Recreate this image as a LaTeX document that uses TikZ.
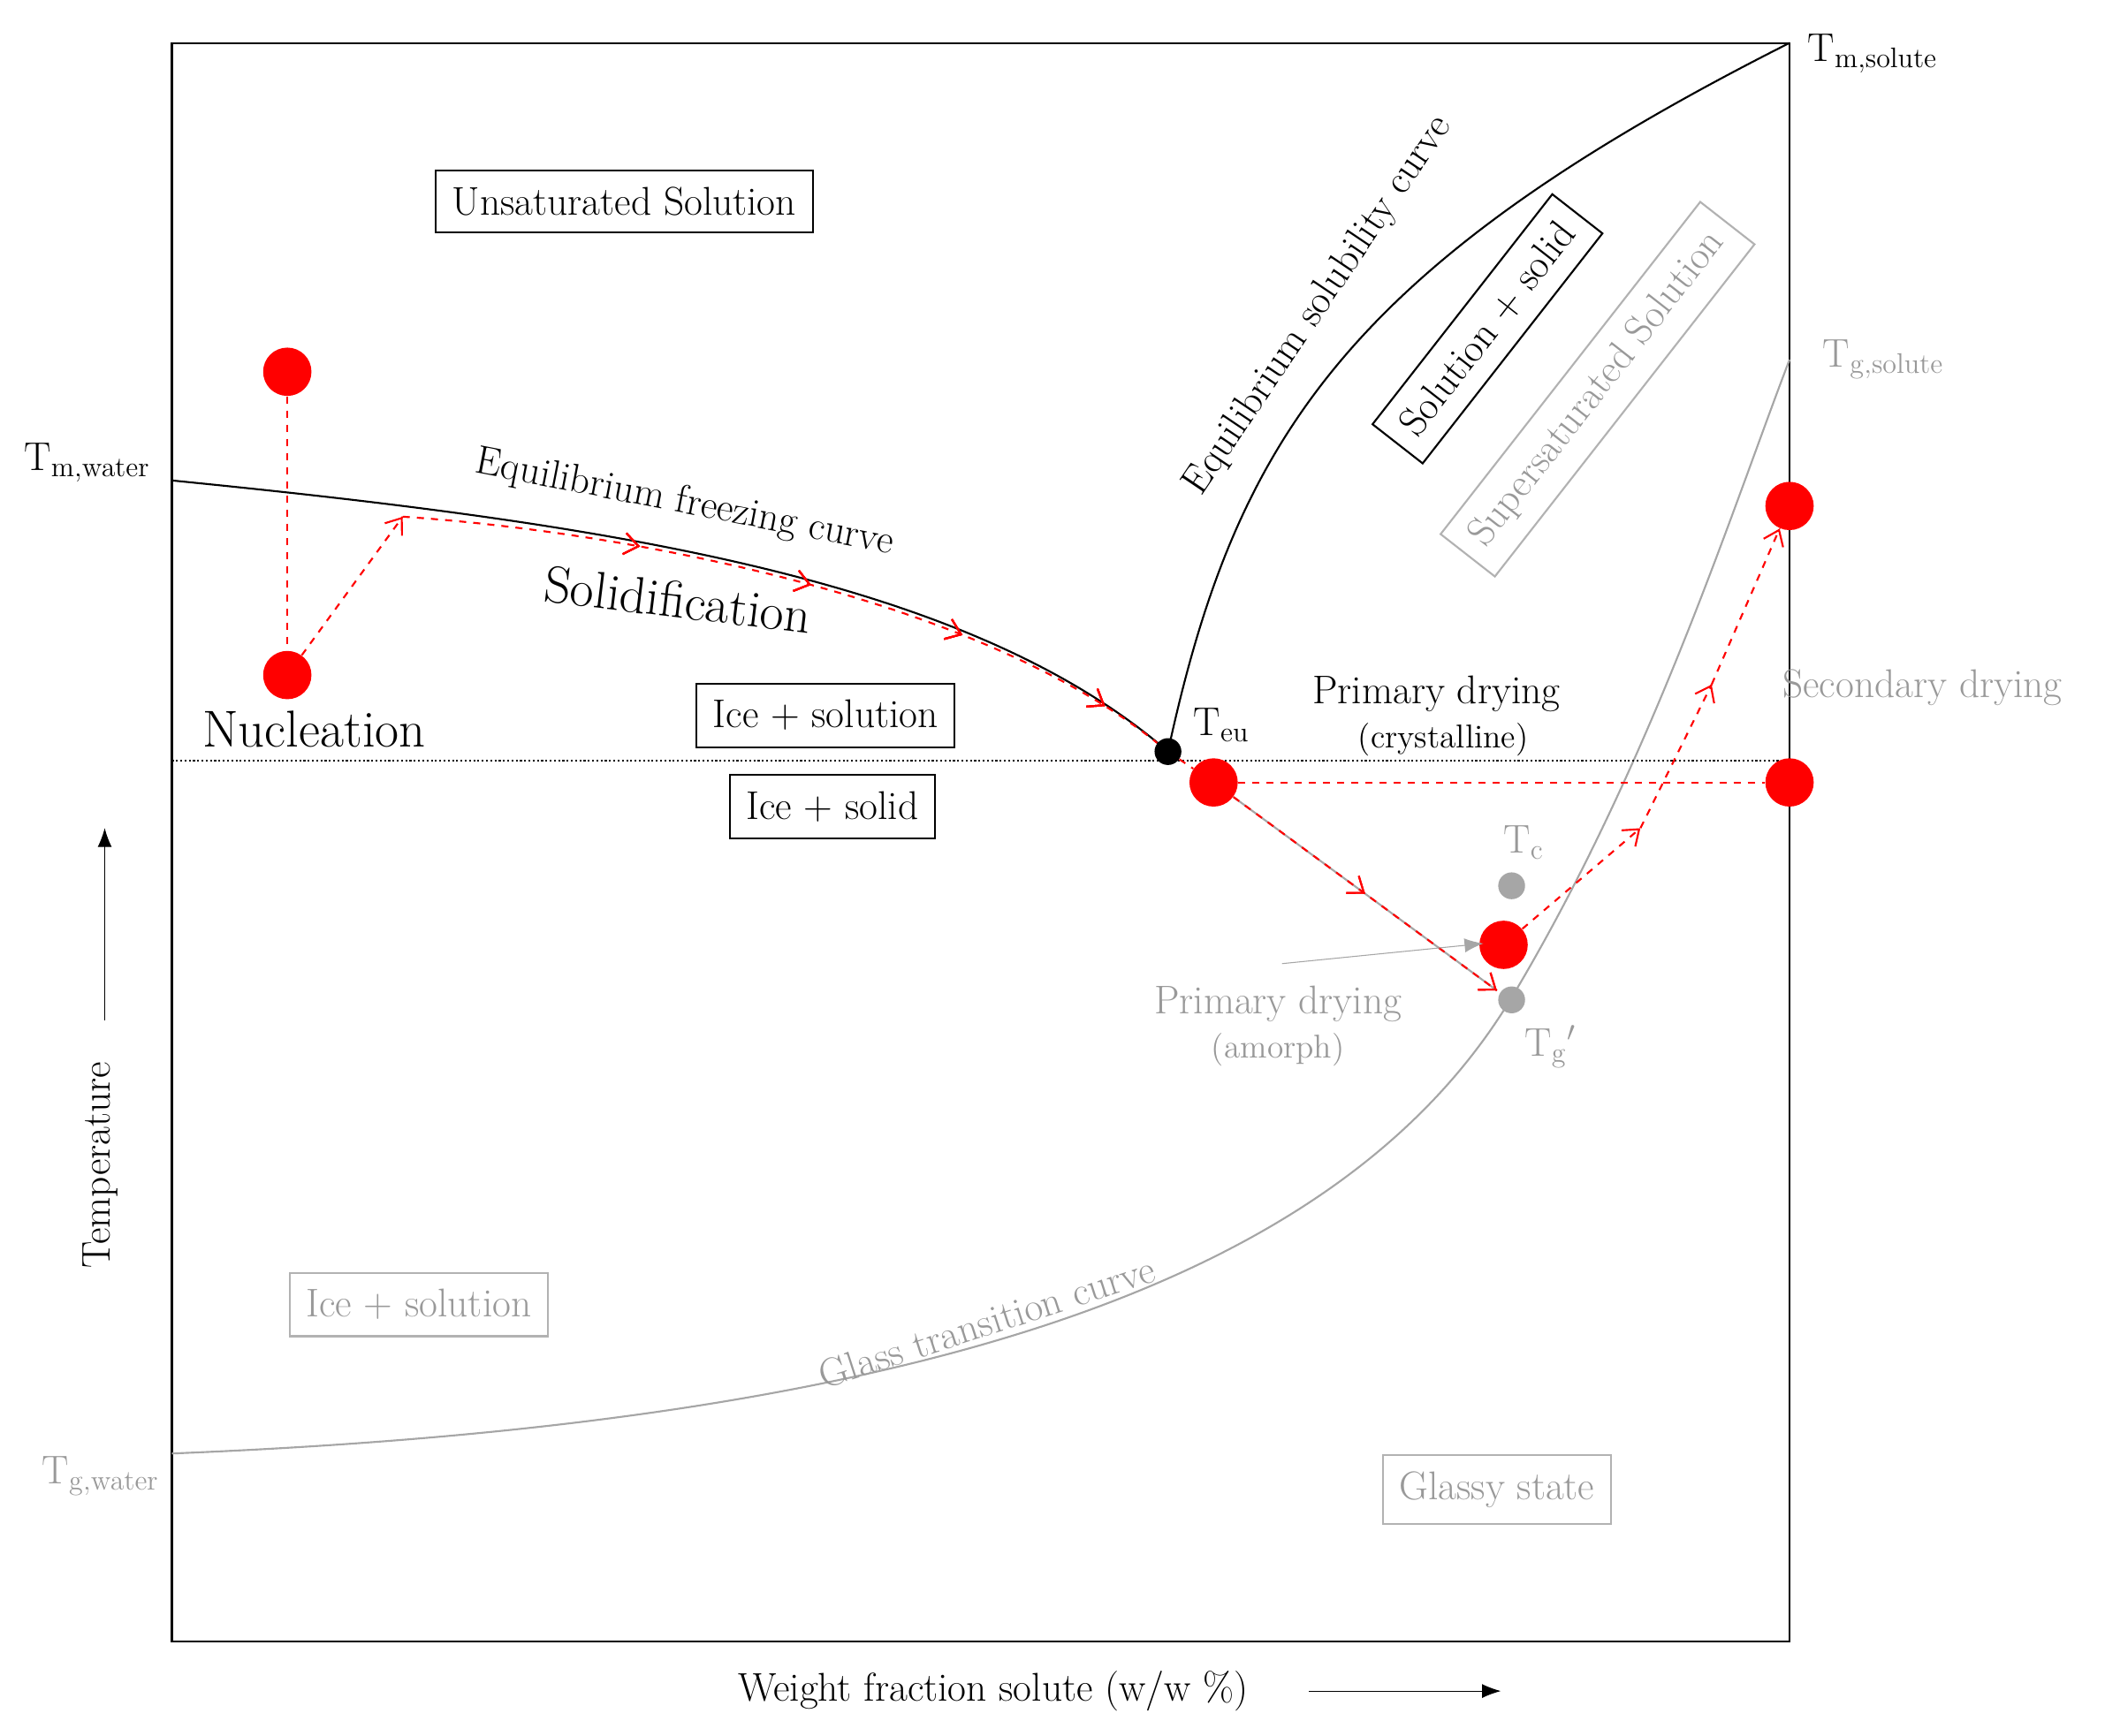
\documentclass[tikz,border=0pt]{standalone}
\usetikzlibrary{decorations.markings,arrows.meta}
\begin{document}
\begin{tikzpicture}[x=0.02cm,y=-0.02cm,
  lbl/.style={font=\fontsize{17}{19}\selectfont},
  big/.style={font=\fontsize{22}{25}\selectfont},
  box/.style={draw,thick,lbl,inner sep=7pt},
  gbox/.style={draw=gray!60,thick,lbl,text=gray!80,inner sep=7pt},
  gl/.style={lbl,text=gray!80},
  rdot/.style={circle,fill=red,inner sep=0pt,minimum size=0.72cm},
  path1/.style={red,dashed,thick},
  mk/.style={postaction={decorate},decoration={markings,mark=at position #1 with {\arrow[red,solid]{Straight Barb[length=6pt,width=9pt]}}}}
]
\useasboundingbox (0,0) rectangle (1568,1293);
\draw[thick] (128,32) rectangle (1333,1223);
% curves
\coordinate (teu) at (870,560);
\draw[thick] (128,358) .. controls (450,390) and (720,430) .. (teu);
\draw[thick] (teu) .. controls (920,330) and (1000,200) .. (1333,32);
\draw[gray!70,thick] (128,1083) .. controls (700,1060) and (1000,950) .. (1125,745) .. controls (1230,570) and (1290,380) .. (1333,268);
\draw[densely dotted,thick] (128,567) -- (1333,567);
% nodes
\node[rdot] (r1) at (214,277) {};
\node[rdot] (r2) at (214,503) {};
\node[rdot] (r3) at (904,583) {};
\node[rdot] (r4) at (1333,583) {};
\node[rdot] (r5) at (1120,704) {};
\node[rdot] (r6) at (1333,377) {};
\node[circle,fill=black,minimum size=0.4cm,inner sep=0pt] (b1) at (teu) {};
\node[circle,fill=gray!70,minimum size=0.4cm,inner sep=0pt] (tc) at (1126,660) {};
\node[circle,fill=gray!70,minimum size=0.4cm,inner sep=0pt] (tg) at (1126,745) {};
\coordinate (k1) at (300,385);
\coordinate (k2) at (1115,738);
\coordinate (k3) at (1222,617);
\coordinate (k4) at (1275,510);
% red path
\draw[path1] (r1) -- (r2);
\draw[path1,mk=1] (r2) -- (k1);
\draw[path1,mk=0.3,mk=0.52,mk=0.72,mk=0.92] (k1) .. controls (450,395) and (720,440) .. (b1);
\draw[path1] (b1) -- (r3);
\draw[path1] (r3) -- (r4);
\draw[gray!70,thick] (r3) -- (k2);
\draw[path1,mk=0.5,mk=1] (r3) -- (k2);
\draw[path1,mk=1] (r5) -- (k3);
\draw[path1,mk=1] (k3) -- (k4);
\draw[path1,mk=1] (k4) -- (r6);
\coordinate (ga) at (955,718);
\draw[gray!70,-{Latex[length=8pt]}] (ga) -- (1105,703);
% boxes
\node[box] at (465,150) {Unsaturated Solution};
\node[box] at (615,533) {Ice + solution};
\node[box] at (620,601) {Ice + solid};
\node[gbox] at (312,972) {Ice + solution};
\node[gbox] at (1115,1110) {Glassy state};
\node[box,rotate=52] at (1108,245) {Solution + solid};
\node[gbox,rotate=52] at (1190,290) {Supersaturated Solution};
% labels
\node[lbl] at (65,345) {T$_{\mathrm{m,water}}$};
\node[lbl] at (1395,40) {T$_{\mathrm{m,solute}}$};
\node[gl] at (1403,268) {T$_{\mathrm{g,solute}}$};
\node[gl] at (75,1100) {T$_{\mathrm{g,water}}$};
\node[lbl,rotate=-11] at (510,375) {Equilibrium freezing curve};
\node[big,rotate=-7] at (505,447) {Solidification};
\node[big] at (234,543) {Nucleation};
\node[lbl,rotate=56] at (982,228) {Equilibrium solubility curve};
\node[lbl] at (910,540) {T$_{\mathrm{eu}}$};
\node[lbl] at (1070,517) {Primary drying};
\node[lbl,font=\fontsize{14}{16}\selectfont] at (1075,551) {(crystalline)};
\node[gl] at (1432,512) {Secondary drying};
\node[gl] at (1135,628) {T$_{\mathrm{c}}$};
\node[gl] at (952,748) {Primary drying};
\node[gl,font=\fontsize{14}{16}\selectfont] at (952,782) {(amorph)};
\node[gl] at (1155,780) {T$_{\mathrm{g}}{}'$};
\node[gl,rotate=18] at (735,985) {Glass transition curve};
\node[lbl,rotate=90] (temp) at (75,868) {Temperature};
\coordinate (ta) at (78,760); \coordinate (tb) at (78,617);
\draw[-{Latex[length=8pt]}] (ta) -- (tb);
\node[lbl] at (740,1260) {Weight fraction solute (w/w \%)};
\coordinate (wa) at (975,1260); \coordinate (wb) at (1118,1260);
\draw[-{Latex[length=8pt]}] (wa) -- (wb);
\end{tikzpicture}
\end{document}
